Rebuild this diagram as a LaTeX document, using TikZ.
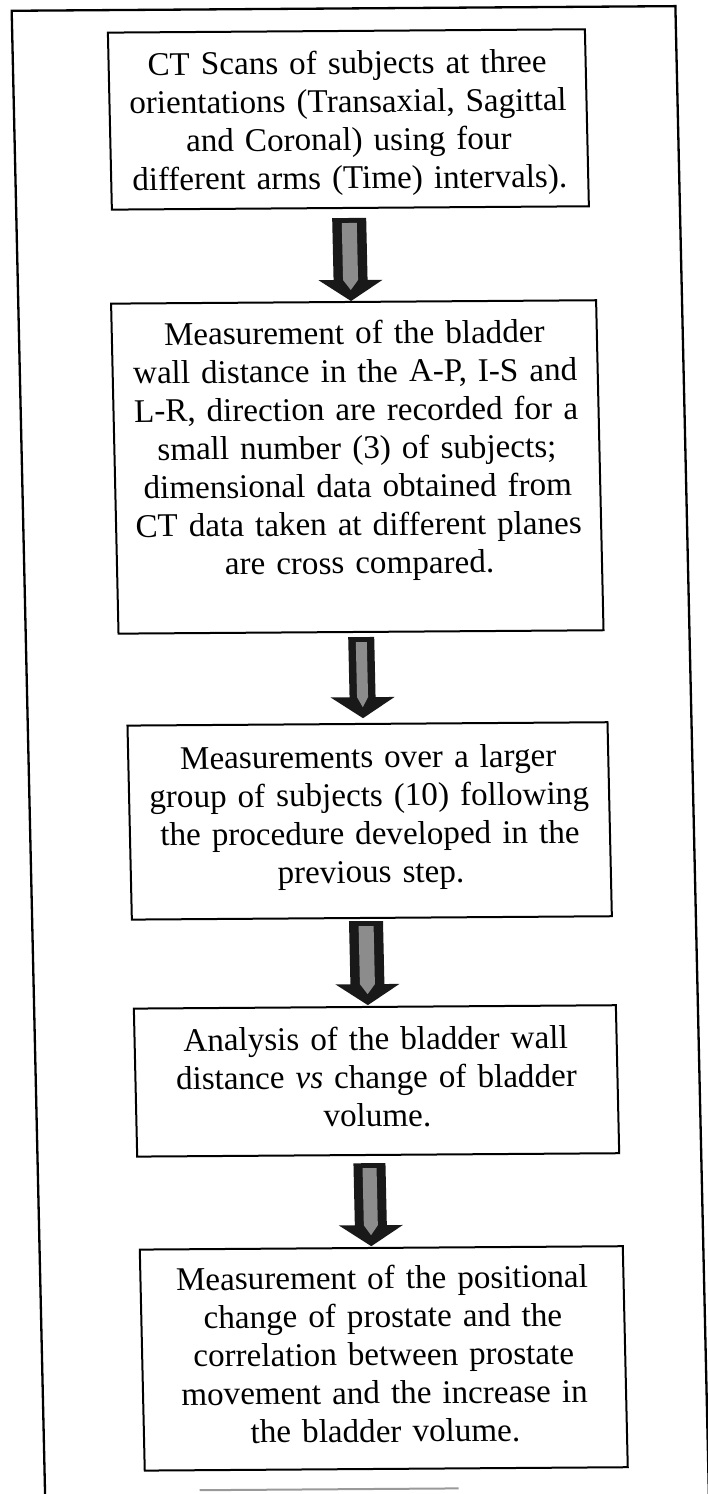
\documentclass[tikz,border=0pt]{standalone}
\usepackage{fontspec}
\setmainfont{Liberation Serif}
\usetikzlibrary{calc}
\tikzset{
  flowbox/.style={draw=black, line width=2pt, fill=white, inner xsep=0pt, inner ysep=0pt,
    text width=466pt, align=center, font=\fontsize{33.1}{38.3}\selectfont, anchor=north},
  frameline/.style={draw=black, line width=2.3pt},
  arrowdark/.style={fill=black!90},
  arrowgray/.style={fill=black!45},
  scanline/.style={draw=black!40, line width=2pt},
}
% #1 from node, #2 to node, #3 x offset, #4 top gap, #5 bottom gap, #6 shaft half width, #7 inner half width
\newcommand\blkarrow[7]{%
  \fill[arrowdark] let \p1=(#1.south), \p2=(#2.north), \n1={veclen(\x2-\x1,\y2-\y1)-#4-#5-21} in
    (#1.south) ++(#3-#6,-#4) -- ++(2*#6,0) -- ++(0,-\n1) -- ++(32-#6,0) -- ++(-32,-21)
    -- ++(-32,21) -- ++(32-#6,0) -- cycle;
  \fill[arrowgray] let \p1=(#1.south), \p2=(#2.north), \n1={veclen(\x2-\x1,\y2-\y1)-#4-#5-21} in
    (#1.south) ++(#3-#7,-#4-5) -- ++(2*#7,0) -- ++(0,{5-\n1}) -- ++(-#7,-10) -- ++(-#7,10) -- cycle;
}
\begin{document}
\begin{tikzpicture}[x=1pt,y=1pt]
\useasboundingbox (0,0) rectangle (708,-1494);
\clip (0,0) rectangle (708,-1494);
\begin{scope}[cm={1,0.007,-0.0225,1,(-16.81pt,-2.48pt)}, transform shape]
  \draw[frameline] (28.3,-1560) -- (28.3,-8.5) -- (692,-8.5) -- (692,-1560);

  \node[flowbox, minimum width=477pt, text height=43pt, text depth=134pt] (b1) at (362.5,-30)
    {CT Scans of subjects at three\\orientations (Transaxial, Sagittal\\and Coronal) using four\\different arms (Time) intervals).};
  \node[flowbox, minimum width=485pt, text height=42pt, text depth=288pt] (b2) at (363.6,-301)
    {Measurement of the bladder\\wall distance in the A-P, I-S and\\L-R, direction are recorded for a\\small number (3) of subjects;\\dimensional data obtained from\\CT data taken at different planes\\are cross compared.};
  \node[flowbox, minimum width=480pt, text height=44pt, text depth=150pt] (b3) at (368,-723)
    {Measurements over a larger\\group of subjects (10) following\\the procedure developed in the\\previous step.};
  \node[flowbox, minimum width=482pt, text height=43pt, text depth=105pt] (b4) at (369,-1006)
    {Analysis of the bladder wall\\distance \textit{vs} change of bladder\\volume.};
  \node[flowbox, minimum width=483pt, text height=41pt, text depth=180pt] (b5) at (370,-1247)
    {Measurement of the positional\\change of prostate and the\\correlation between prostate\\movement and the increase in\\the bladder volume.};

  \blkarrow{b1}{b2}{-1.5}{9}{0}{17}{7.5}
  \blkarrow{b2}{b3}{0}{4}{5}{13}{5.5}
  \blkarrow{b3}{b4}{-6}{2}{1}{17}{7.5}
  \blkarrow{b4}{b5}{-9}{7}{1}{16}{7}

  \draw[scanline] (183,-1489) -- (442,-1489);
\end{scope}
\end{tikzpicture}
\end{document}
